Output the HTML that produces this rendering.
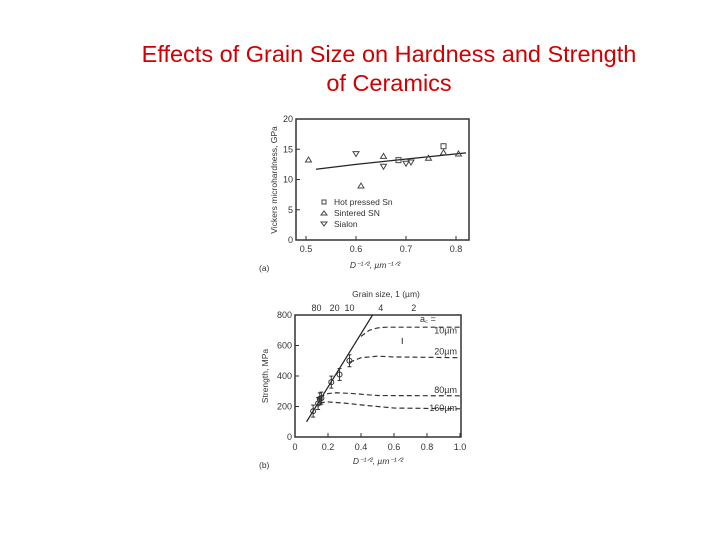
<!DOCTYPE html>
<html><head><meta charset="utf-8"><style>
body{margin:0;background:#fff;width:720px;height:540px;overflow:hidden;font-family:"Liberation Sans",sans-serif}
#title{position:absolute;left:60px;width:658px;top:40px;text-align:center;color:#d00000;font-size:23.5px;line-height:29px}
svg{position:absolute;left:0;top:0}
text{font-family:"Liberation Sans",sans-serif;fill:#333}
</style></head><body>
<div id="title">Effects of Grain Size on Hardness and Strength<br>of Ceramics</div>
<svg id="s" width="720" height="540"></svg>
<script>
// Chart (a) data
const aXTicks=[0.5,0.6,0.7,0.8];
const aYTicks=[0,5,10,15,20];
const hotX=[0.685,0.775];
const hotY=[13.2,15.5];
const sintX=[0.505,0.61,0.655,0.745,0.775,0.805];
const sintY=[13.3,9,13.9,13.6,14.5,14.3];
const sialX=[0.6,0.655,0.7,0.71];
const sialY=[14.2,12.1,12.6,12.8];
const fitAX=[0.52,0.6,0.68,0.75,0.82];
const fitAY=[11.7,12.5,13.2,13.8,14.4];
// Chart (b) data
const bXTicks=[0,0.2,0.4,0.6,0.8,1.0];
const bYTicks=[0,200,400,600,800];
const topLabels=["80","20","10","4","2"];
const topPos=[0.13,0.24,0.33,0.52,0.72];
const ptsX=[0.11,0.14,0.15,0.16,0.22,0.27,0.33];
const ptsY=[170,220,250,255,360,410,500];
const lineX=[0.07,0.47];
const lineY=[100,800];
const c10X=[0.4,0.45,0.5,0.55,0.65,1.0];const c10Y=[660,700,715,720,720,720];
const c20X=[0.33,0.4,0.5,0.6,1.0];const c20Y=[490,520,530,525,520];
const c80X=[0.15,0.2,0.25,0.35,0.5,1.0];const c80Y=[260,285,290,285,272,270];
const c160X=[0.15,0.2,0.3,0.45,0.6,1.0];const c160Y=[225,230,222,205,190,185];
const cLabels=["10µm","20µm","80µm","160µm"];
const cLabelY=[660,520,270,150];

const NS="http://www.w3.org/2000/svg",S=document.getElementById('s');
function el(t,a,txt){const e=document.createElementNS(NS,t);for(const k in a)e.setAttribute(k,a[k]);if(txt!==undefined)e.textContent=txt;S.appendChild(e);return e;}
const ax=v=>296+(v-0.48)/(0.826-0.48)*173, ay=v=>240-v*6.05;
const bx=v=>295+v*165, by=v=>437-v*0.1525;

let e=el('rect',{x:296,y:119,width:173,height:121,fill:'none',stroke:'#333','stroke-width':1.5});

aXTicks.forEach(t=>{el('line',{x1:ax(t),x2:ax(t),y1:240,y2:236,stroke:'#333'});
 e=el('text',{x:ax(t),y:252,'font-size':9,'text-anchor':'middle'},t.toFixed(1));
 });
aYTicks.forEach(t=>{el('line',{x1:296,x2:300,y1:ay(t),y2:ay(t),stroke:'#333'});
 e=el('text',{x:293,y:ay(t)+3,'font-size':9,'text-anchor':'end'},t);
 });
e=el('text',{x:0,y:0,'font-size':8.5,'text-anchor':'middle',transform:'translate(277,180) rotate(-90)'},'Vickers microhardness, GPa');

e=el('text',{x:375,y:268,'font-size':8.5,'text-anchor':'middle','font-style':'italic'},'D⁻¹ᐟ², µm⁻¹ᐟ²');

e=el('text',{x:259,y:271,'font-size':8.5},'(a)');

e=el('polyline',{points:fitAX.map((x,i)=>ax(x)+','+ay(fitAY[i])).join(' '),fill:'none',stroke:'#222','stroke-width':1.3});

hotX.forEach((x,i)=>{e=el('rect',{x:ax(x)-2.5,y:ay(hotY[i])-2.5,width:5,height:5,fill:'none',stroke:'#444'});
 });
const tri=(x,y,d)=>`${x-3},${y+2.5*d} ${x+3},${y+2.5*d} ${x},${y-2.5*d}`;
sintX.forEach((x,i)=>{e=el('polygon',{points:tri(ax(x),ay(sintY[i]),1),fill:'none',stroke:'#444'});
 });
sialX.forEach((x,i)=>{e=el('polygon',{points:tri(ax(x),ay(sialY[i]),-1),fill:'none',stroke:'#444'});
 });
[["Hot pressed Sn",'sq'],["Sintered SN",'up'],["Sialon",'dn']].forEach((l,i)=>{
 const y=202+i*11;
 if(l[1]=='sq')el('rect',{x:322,y:y-2,width:4,height:4,fill:'none',stroke:'#444'});
 else el('polygon',{points:tri(324,y,l[1]=='up'?0.8:-0.8),fill:'none',stroke:'#444'});
 e=el('text',{x:334,y:y+3,'font-size':8.5},l[0]);
 });

e=el('rect',{x:295,y:315,width:166,height:122,fill:'none',stroke:'#333','stroke-width':1.5});

bXTicks.forEach(t=>{el('line',{x1:bx(t),x2:bx(t),y1:437,y2:433,stroke:'#333'});
 e=el('text',{x:bx(t),y:450,'font-size':9,'text-anchor':'middle'},t==0?'0':t.toFixed(1));
 });
bYTicks.forEach(t=>{el('line',{x1:295,x2:299,y1:by(t),y2:by(t),stroke:'#333'});
 e=el('text',{x:292,y:by(t)+3,'font-size':9,'text-anchor':'end'},t);
 });
topLabels.forEach((l,i)=>{e=el('text',{x:bx(topPos[i]),y:311,'font-size':9,'text-anchor':'middle'},l);
 });
e=el('text',{x:386,y:297,'font-size':8.5,'text-anchor':'middle'},'Grain size, 1 (µm)');

e=el('text',{x:0,y:0,'font-size':8.5,'text-anchor':'middle',transform:'translate(268,376) rotate(-90)'},'Strength, MPa');

e=el('text',{x:378,y:464,'font-size':8.5,'text-anchor':'middle','font-style':'italic'},'D⁻¹ᐟ², µm⁻¹ᐟ²');

e=el('text',{x:259,y:468,'font-size':8.5},'(b)');

e=el('line',{x1:bx(lineX[0]),y1:by(lineY[0]),x2:bx(lineX[1]),y2:by(lineY[1]),stroke:'#222','stroke-width':1.2});

[[c10X,c10Y],[c20X,c20Y],[c80X,c80Y],[c160X,c160Y]].forEach((c,i)=>{
 e=el('polyline',{points:c[0].map((x,j)=>bx(x)+','+by(c[1][j])).join(' '),fill:'none',stroke:'#333','stroke-width':1.2,'stroke-dasharray':'5,3'});
 
 e=el('text',{x:457,y:by(cLabelY[i])-3,'font-size':9,'text-anchor':'end'},cLabels[i]);
 });
e=el('text',{x:420,y:322,'font-size':9},'a꜀ =');

ptsX.forEach((x,i)=>{const X=bx(x),Y=by(ptsY[i]);
 el('line',{x1:X,x2:X,y1:Y-6,y2:Y+6,stroke:'#333'});
 el('line',{x1:X-2,x2:X+2,y1:Y-6,y2:Y-6,stroke:'#333'});el('line',{x1:X-2,x2:X+2,y1:Y+6,y2:Y+6,stroke:'#333'});
 e=el('circle',{cx:X,cy:Y,r:2.5,fill:'none',stroke:'#333'});
 });
el('line',{x1:bx(0.65),x2:bx(0.65),y1:by(650),y2:by(610),stroke:'#333'});
</script>
</body></html>
